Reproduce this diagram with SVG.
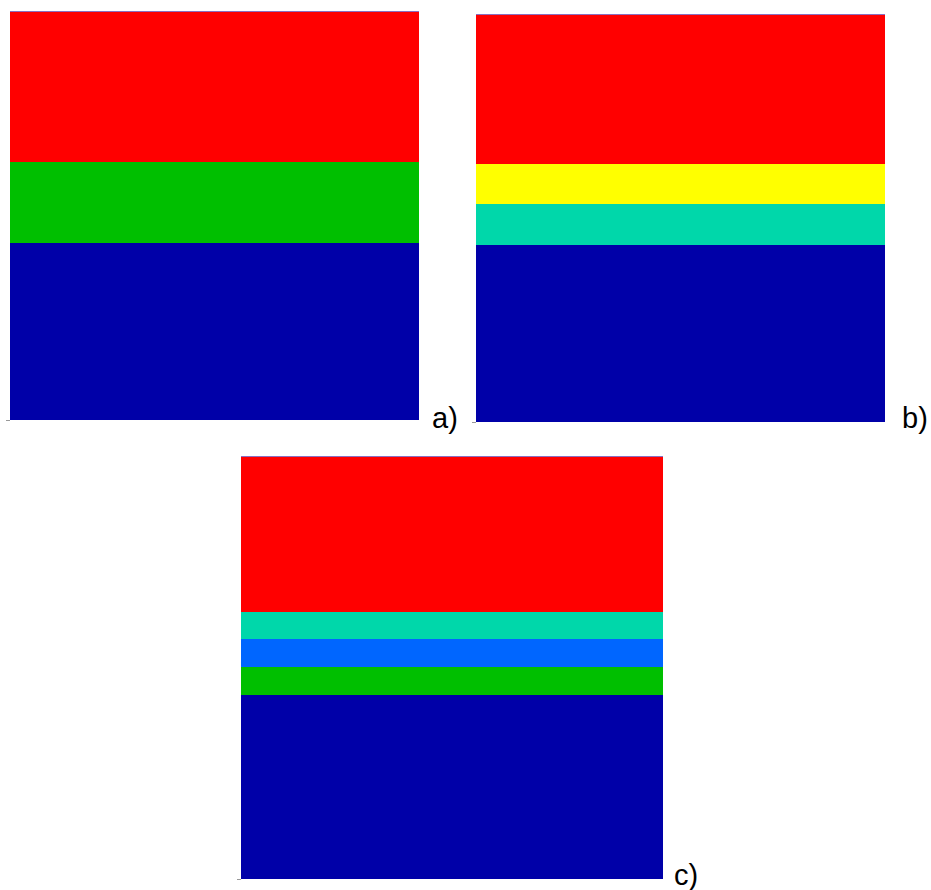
<svg xmlns="http://www.w3.org/2000/svg" width="931" height="890" viewBox="0 0 931 890">
<style>
.lbl{font-family:"Liberation Sans",Arial,sans-serif;font-size:29px;fill:#000}
.edge{stroke:#8a6fc0;stroke-width:1;fill:none}
.tick{stroke:#999;stroke-width:1}
</style>
<rect width="931" height="890" fill="#fff"/>
<g id="panel-a">
<rect x="10" y="11" width="409" height="152" fill="#ff0000"/>
<rect x="10" y="162" width="409" height="81" fill="#00bf00"/>
<rect x="10" y="243" width="409" height="177" fill="#0000a8"/>
<line class="edge" x1="10" y1="11.5" x2="419" y2="11.5"/>
<line class="tick" x1="6" y1="420.5" x2="10" y2="420.5"/>
<text class="lbl" x="432" y="428">a)</text>
</g>
<g id="panel-b">
<rect x="476" y="14" width="409" height="150" fill="#ff0000"/>
<rect x="476" y="164" width="409" height="40" fill="#ffff00"/>
<rect x="476" y="204" width="409" height="41" fill="#00d7aa"/>
<rect x="476" y="245" width="409" height="177" fill="#0000a8"/>
<line class="edge" x1="476" y1="14.5" x2="885" y2="14.5"/>
<line class="tick" x1="472" y1="422.5" x2="476" y2="422.5"/>
<text class="lbl" x="902" y="428">b)</text>
</g>
<g id="panel-c">
<rect x="241" y="456" width="422" height="156" fill="#ff0000"/>
<rect x="241" y="612" width="422" height="27" fill="#00d7aa"/>
<rect x="241" y="639" width="422" height="28" fill="#0066ff"/>
<rect x="241" y="667" width="422" height="28" fill="#00bf00"/>
<rect x="241" y="695" width="422" height="184" fill="#0000a8"/>
<line class="edge" x1="241" y1="456.5" x2="663" y2="456.5"/>
<line class="tick" x1="237" y1="879.5" x2="241" y2="879.5"/>
<text class="lbl" x="674" y="885">c)</text>
</g>
<g id="connectors"/>
</svg>
